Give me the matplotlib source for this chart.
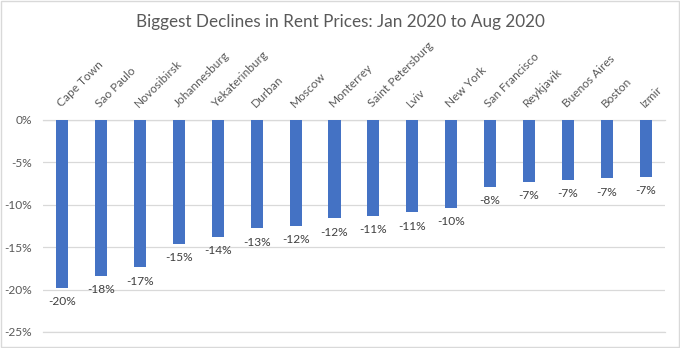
import numpy as np
import matplotlib.pyplot as plt
from matplotlib.patches import Rectangle

cities = ["Cape Town", "Sao Paulo", "Novosibirsk", "Johannesburg", "Yekaterinburg",
          "Durban", "Moscow", "Monterrey", "Saint Petersburg", "Lviv", "New York",
          "San Francisco", "Reykjavik", "Buenos Aires", "Boston", "Izmir"]
change_pct = [-19.8, -18.4, -17.4, -14.6, -13.8, -12.8, -12.5, -11.6, -11.3, -10.9,
              -10.4, -7.9, -7.3, -7.1, -6.9, -6.7]
y_ticks = [0, -5, -10, -15, -20, -25]

plt.rcParams["font.family"] = ["Lato", "DejaVu Sans"]

fig = plt.figure(figsize=(6.8, 3.48), dpi=100)
ax = fig.add_axes([0.063, 0.046, 0.915, 0.61])

x = np.arange(len(cities))
ax.bar(x, change_pct, width=0.31, color="#4472C4", zorder=2)

ax.set_xlim(-0.5, len(cities) - 0.5)
ax.set_ylim(-25, 0)
ax.set_yticks(y_ticks)
ax.set_yticklabels([f"{v}%" for v in y_ticks], color="#595959", fontsize=8.6)
ax.tick_params(axis="y", length=0, pad=8)
ax.set_xticks([])
ax.grid(axis="y", color="#d9d9d9", linewidth=0.9, zorder=0)
for side in ["top", "right", "bottom", "left"]:
    ax.spines[side].set_visible(False)
# gridline at 0% and -25% sit on the axes edge
for v in [0, -25]:
    ax.axhline(v, color="#d9d9d9", linewidth=0.9, zorder=1, clip_on=False)

# category labels above the plot, tilted
for i, name in enumerate(cities):
    ax.annotate(name, xy=(i, 0), xytext=(-2.5, 10.5), textcoords="offset points",
                rotation=45, rotation_mode="anchor", ha="left", va="center",
                fontsize=8.6, color="#595959", annotation_clip=False)

# value labels under each bar
for i, v in enumerate(change_pct):
    ax.annotate(f"{round(v):d}%", xy=(i, v), xytext=(0, -10), textcoords="offset points",
                ha="center", va="center", fontsize=8.6, color="#404040")

fig.text(0.5, 0.937, "Biggest Declines in Rent Prices: Jan 2020 to Aug 2020",
         ha="center", va="center", fontsize=12.3, color="#595959")

fig.patches.append(Rectangle((0.001, 0.002), 0.997, 0.995, transform=fig.transFigure,
                             fill=False, edgecolor="#d9d9d9", linewidth=1))

fig.savefig("out.png", dpi=100)
